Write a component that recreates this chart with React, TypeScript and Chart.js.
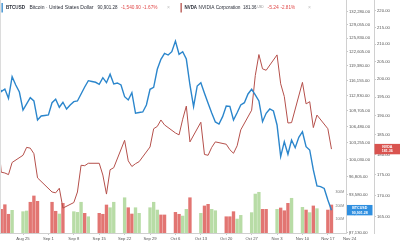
import React, { useEffect, useRef } from 'react';
import { Chart, registerables } from 'chart.js';

Chart.register(...registerables);

// Day index 0 = Aug 18 (Mon) ... 92 = Nov 18
const btcClose: number[] = [
  115820, 113720, 114300, 112310, 116990, 115170, 113650,
  109850, 111110, 112440, 111740, 107790, 108610, 108720,
  108820, 111380, 112100, 110420, 111470, 110060, 110900,
  111590, 111740, 113230, 114730, 116110, 115930, 115760,
  115320, 116770, 115670, 117530, 115390, 115610, 115170,
  112650, 111950, 113500, 109170, 109330, 109440, 110900,
  114230, 114670, 118640, 120890, 122280, 121880, 122650,
  125150, 122050, 122650, 120960, 115170, 110540, 114950,
  115670, 113380, 111260, 109230, 107390, 106980, 108470,
  110690, 110600, 107790, 109290, 110900, 111380, 113230,
  114230, 113010, 111740, 107450, 109170, 110060, 109640,
  106780, 100580, 103460, 101030, 103790, 102290, 104320,
  105430, 102490, 101850, 98080, 95160, 95030, 94710,
  92670, 90901.28,
];

const nvdaClose: (number | null)[] = [
  186.0, 175.6, 175.4, 175.0, 178.0, null, null,
  179.8, 181.8, 181.6, 180.2, 174.2, null, null,
  null, 170.8, 170.6, 171.7, 167.0, null, null,
  168.3, 170.8, 177.3, 177.2, 177.8, null, null,
  177.8, 174.9, 170.3, 176.2, 176.7, null, null,
  183.6, 178.4, 177.0, 177.7, 178.2, null, null,
  181.9, 186.6, 187.2, 188.9, 187.6, null, null,
  185.5, 185.0, 189.1, 192.6, 183.2, null, null,
  188.3, 180.0, 179.8, 181.8, 183.2, null, null,
  182.6, 181.2, 180.3, 182.2, 186.3, null, null,
  191.5, 201.0, 207.0, 202.9, 202.5, null, null,
  206.9, 198.7, 195.2, 188.1, 188.2, null, null,
  199.1, 193.2, 193.8, 186.9, 190.2, null, null,
  186.6, 181.36,
];

// NVDA volume, millions
const nvdaVolume: (number | null)[] = [
  132, 173, 207, 137, 166, null, null,
  156, 161, 225, 271, 232, null, null,
  null, 225, 159, 139, 217, null, null,
  156, 151, 225, 144, 119, null, null,
  144, 137, 205, 185, 225, null, null,
  258, 185, 139, 185, 144, null, null,
  185, 225, 168, 132, 132, null, null,
  151, 137, 124, 173, 258, null, null,
  144, 198, 210, 173, 163, null, null,
  119, 119, 156, 102, 129, null, null,
  149, 285, 298, 173, 173, null, null,
  173, 183, 163, 217, 254, null, null,
  188, 168, 149, 198, 178, null, null,
  168, 205,
];

// 'u' = green bar, 'd' = red bar
const volumeDir: (string | null)[] = [
  'u', 'd', 'd', 'd', 'u', null, null,
  'u', 'u', 'd', 'd', 'd', null, null,
  null, 'd', 'd', 'u', 'd', null, null,
  'u', 'u', 'u', 'd', 'u', null, null,
  'd', 'd', 'd', 'u', 'u', null, null,
  'u', 'd', 'd', 'u', 'u', null, null,
  'u', 'u', 'u', 'd', 'd', null, null,
  'd', 'd', 'u', 'u', 'd', null, null,
  'u', 'd', 'd', 'u', 'u', null, null,
  'd', 'd', 'd', 'u', 'u', null, null,
  'u', 'u', 'u', 'd', 'd', null, null,
  'u', 'd', 'd', 'd', 'u', null, null,
  'u', 'd', 'u', 'd', 'u', null, null,
  'd', 'd',
];

const xTickDays = [7, 14, 21, 28, 35, 42, 49, 56, 63, 70, 77, 84, 91, 97];
const xTickLabels = ['Aug 25', 'Sep 1', 'Sep 8', 'Sep 15', 'Sep 22', 'Sep 29', 'Oct 6', 'Oct 13', 'Oct 20', 'Oct 27', 'Nov 3', 'Nov 10', 'Nov 17', 'Nov 24'];

const btcTicks = [87130, 90355, 93580, 96805, 100030, 103255, 106480, 109705, 112930, 116155, 119380, 122605, 125830, 129055, 132280];
const nvdaTicks = [165, 170, 175, 180, 185, 190, 195, 200, 205, 210, 215, 220];
const volumeTicks = [300, 200, 100];
const volumeTickLabels = ['300M', '200M', '100M'];

const BTC_COLOR = '#2b86cc';
const NVDA_COLOR = '#b5504b';
const RED_TXT = '#e04a4a';
const FONT = '"Liberation Sans", Arial, sans-serif';

const fmt2 = (v: number) => v.toLocaleString('en-US', { minimumFractionDigits: 2, maximumFractionDigits: 2 });

const overlayPlugin = {
  id: 'overlay',
  afterDraw(chart: any) {
    const ctx = chart.ctx as CanvasRenderingContext2D;
    const { yBtc, yNvda, yVol } = chart.scales;
    ctx.save();
    // left border
    ctx.strokeStyle = '#dcdcdc';
    ctx.lineWidth = 1;
    ctx.beginPath();
    ctx.moveTo(0.5, 0);
    ctx.lineTo(0.5, chart.chartArea.bottom);
    ctx.stroke();

    // header legend
    ctx.textBaseline = 'middle';
    ctx.textAlign = 'left';
    const hy = 7.5;
    const txt = (s: string, x: number, maxW: number, color: string, size = 5.0, weight = '400') => {
      ctx.font = `${weight} ${size}px ${FONT}`;
      ctx.fillStyle = color;
      ctx.fillText(s, x, hy, maxW);
    };
    ctx.fillStyle = BTC_COLOR;
    ctx.fillRect(1.5, 3, 1.3, 9.5);
    txt('BTCUSD', 6, 19, '#2a2e39', 5.0, '700');
    txt('Bitcoin · United States Dollar', 29.5, 65, '#2a2e39');
    txt('90,901.28', 97.5, 20, '#2a2e39');
    txt('-1,540.90', 121, 20, RED_TXT);
    txt('-1.67%', 142.5, 15, RED_TXT);
    txt('×', 167, 5, '#c0c0c0');
    ctx.fillStyle = NVDA_COLOR;
    ctx.fillRect(180.5, 3, 1.3, 9.5);
    txt('NVDA', 184.5, 12.5, '#2a2e39', 5.0, '700');
    txt('NVIDIA Corporation', 198.5, 42, '#2a2e39');
    txt('181.36', 243, 13.5, '#2a2e39');
    txt('USD', 257.5, 6, '#888', 3);
    txt('-5.24', 267.5, 11.5, RED_TXT);
    txt('-2.81%', 280.5, 14.5, RED_TXT);
    txt('×', 308, 5, '#c0c0c0');

    // volume labels
    ctx.textAlign = 'right';
    ctx.font = `3.4px ${FONT}`;
    ctx.fillStyle = '#777';
    volumeTicks.forEach((v, i) => {
      ctx.fillText(volumeTickLabels[i], 344, yVol.getPixelForValue(v));
    });

    // price boxes
    const box = (x: number, w: number, yc: number, color: string, l1: string, l2: string) => {
      ctx.fillStyle = color;
      ctx.fillRect(x, yc - 5.2, w, 10.4);
      ctx.fillStyle = '#fff';
      ctx.textAlign = 'center';
      ctx.font = `700 3.6px ${FONT}`;
      ctx.fillText(l1, x + w / 2, yc - 2.3);
      ctx.fillText(l2, x + w / 2, yc + 2.4);
    };
    const lastB = btcClose[btcClose.length - 1];
    const lastN = nvdaClose[nvdaClose.length - 1] as number;
    box(347, 25.5, yBtc.getPixelForValue(lastB), '#2f8fe0', 'BTCUSD', fmt2(lastB));
    box(374.5, 25.5, yNvda.getPixelForValue(lastN), '#d9534f', 'NVDA', fmt2(lastN));
    ctx.restore();
  },
};

const noPad = (s: any) => {
  s.paddingLeft = 0;
  s.paddingRight = 0;
  s.paddingTop = 0;
  s.paddingBottom = 0;
};

export default function App() {
  const ref = useRef<HTMLCanvasElement | null>(null);

  useEffect(() => {
    const canvas = ref.current;
    if (!canvas) return;
    Chart.defaults.font.family = FONT;

    const btcData = btcClose.map((v, i) => ({ x: i, y: v }));
    const nvdaData: { x: number; y: number }[] = [];
    nvdaClose.forEach((v, i) => { if (v !== null) nvdaData.push({ x: i, y: v }); });
    const volData: { x: number; y: number }[] = [];
    const volColors: string[] = [];
    nvdaVolume.forEach((v, i) => {
      if (v !== null) {
        volData.push({ x: i, y: v });
        volColors.push(volumeDir[i] === 'u' ? '#b8dca6' : '#e27572');
      }
    });

    const axisTick = { font: { size: 4.2, family: FONT }, color: '#555' };

    const chart = new Chart(canvas, {
      type: 'line',
      data: {
        datasets: [
          {
            type: 'line', label: 'BTCUSD', data: btcData, yAxisID: 'yBtc', xAxisID: 'x',
            borderColor: BTC_COLOR, borderWidth: 1.4, pointRadius: 0, tension: 0, order: 1,
          },
          {
            type: 'line', label: 'NVDA', data: nvdaData, yAxisID: 'yNvda', xAxisID: 'x',
            borderColor: NVDA_COLOR, borderWidth: 1, pointRadius: 0, tension: 0, order: 2,
          },
          {
            type: 'bar', label: 'Volume', data: volData, yAxisID: 'yVol', xAxisID: 'x',
            backgroundColor: volColors, barThickness: 2.7, order: 3,
          },
        ] as any,
      },
      options: {
        responsive: false,
        maintainAspectRatio: false,
        animation: false,
        devicePixelRatio: 1,
        layout: { padding: 0, autoPadding: false },
        plugins: { legend: { display: false }, tooltip: { enabled: false } },
        scales: {
          x: {
            type: 'linear', position: 'bottom', min: 0.66, max: 96, bounds: 'data', offset: false,
            afterBuildTicks: (s: any) => { s.ticks = xTickDays.map((v) => ({ value: v })); },
            afterFit: (s: any) => { s.height = 13; noPad(s); },
            ticks: {
              ...axisTick, autoSkip: false, maxRotation: 0, padding: 1.5,
              callback: (v: any) => { const k = xTickDays.indexOf(Number(v)); return k >= 0 ? xTickLabels[k] : ''; },
            },
            grid: { offset: false, drawOnChartArea: false, drawTicks: true, tickLength: 2, color: '#c8c8c8' },
            border: { display: true, color: '#d0d0d0' },
          },
          yBtc: {
            type: 'logarithmic', position: 'right', min: 87060, max: 135240, bounds: 'data', weight: 0,
            afterBuildTicks: (s: any) => { s.ticks = btcTicks.map((v) => ({ value: v })); },
            afterFit: (s: any) => { s.width = 28; noPad(s); },
            ticks: { ...axisTick, autoSkip: false, padding: 1, callback: (v: any) => fmt2(Number(v)) },
            grid: { drawOnChartArea: false, tickLength: 2, color: '#c8c8c8' },
            border: { display: true, color: '#d0d0d0' },
          },
          yNvda: {
            type: 'logarithmic', position: 'right', min: 161.28, max: 223.41, bounds: 'data', weight: 1,
            afterBuildTicks: (s: any) => { s.ticks = nvdaTicks.map((v) => ({ value: v })); },
            afterFit: (s: any) => { s.width = 26; noPad(s); },
            ticks: { ...axisTick, autoSkip: false, padding: 1, callback: (v: any) => fmt2(Number(v)) },
            grid: { drawOnChartArea: false, tickLength: 2, color: '#c8c8c8' },
            border: { display: true, color: '#d0d0d0' },
          },
          yVol: { display: false, min: 0, max: 1705 },
        },
      } as any,
      plugins: [overlayPlugin],
    });
    return () => chart.destroy();
  }, []);

  return (
    <div style={{ position: 'fixed', left: 0, top: 0, width: 400, height: 246, background: '#fff' }}>
      <canvas ref={ref} width={400} height={246} style={{ display: 'block', width: 400, height: 246 }} />
    </div>
  );
}
